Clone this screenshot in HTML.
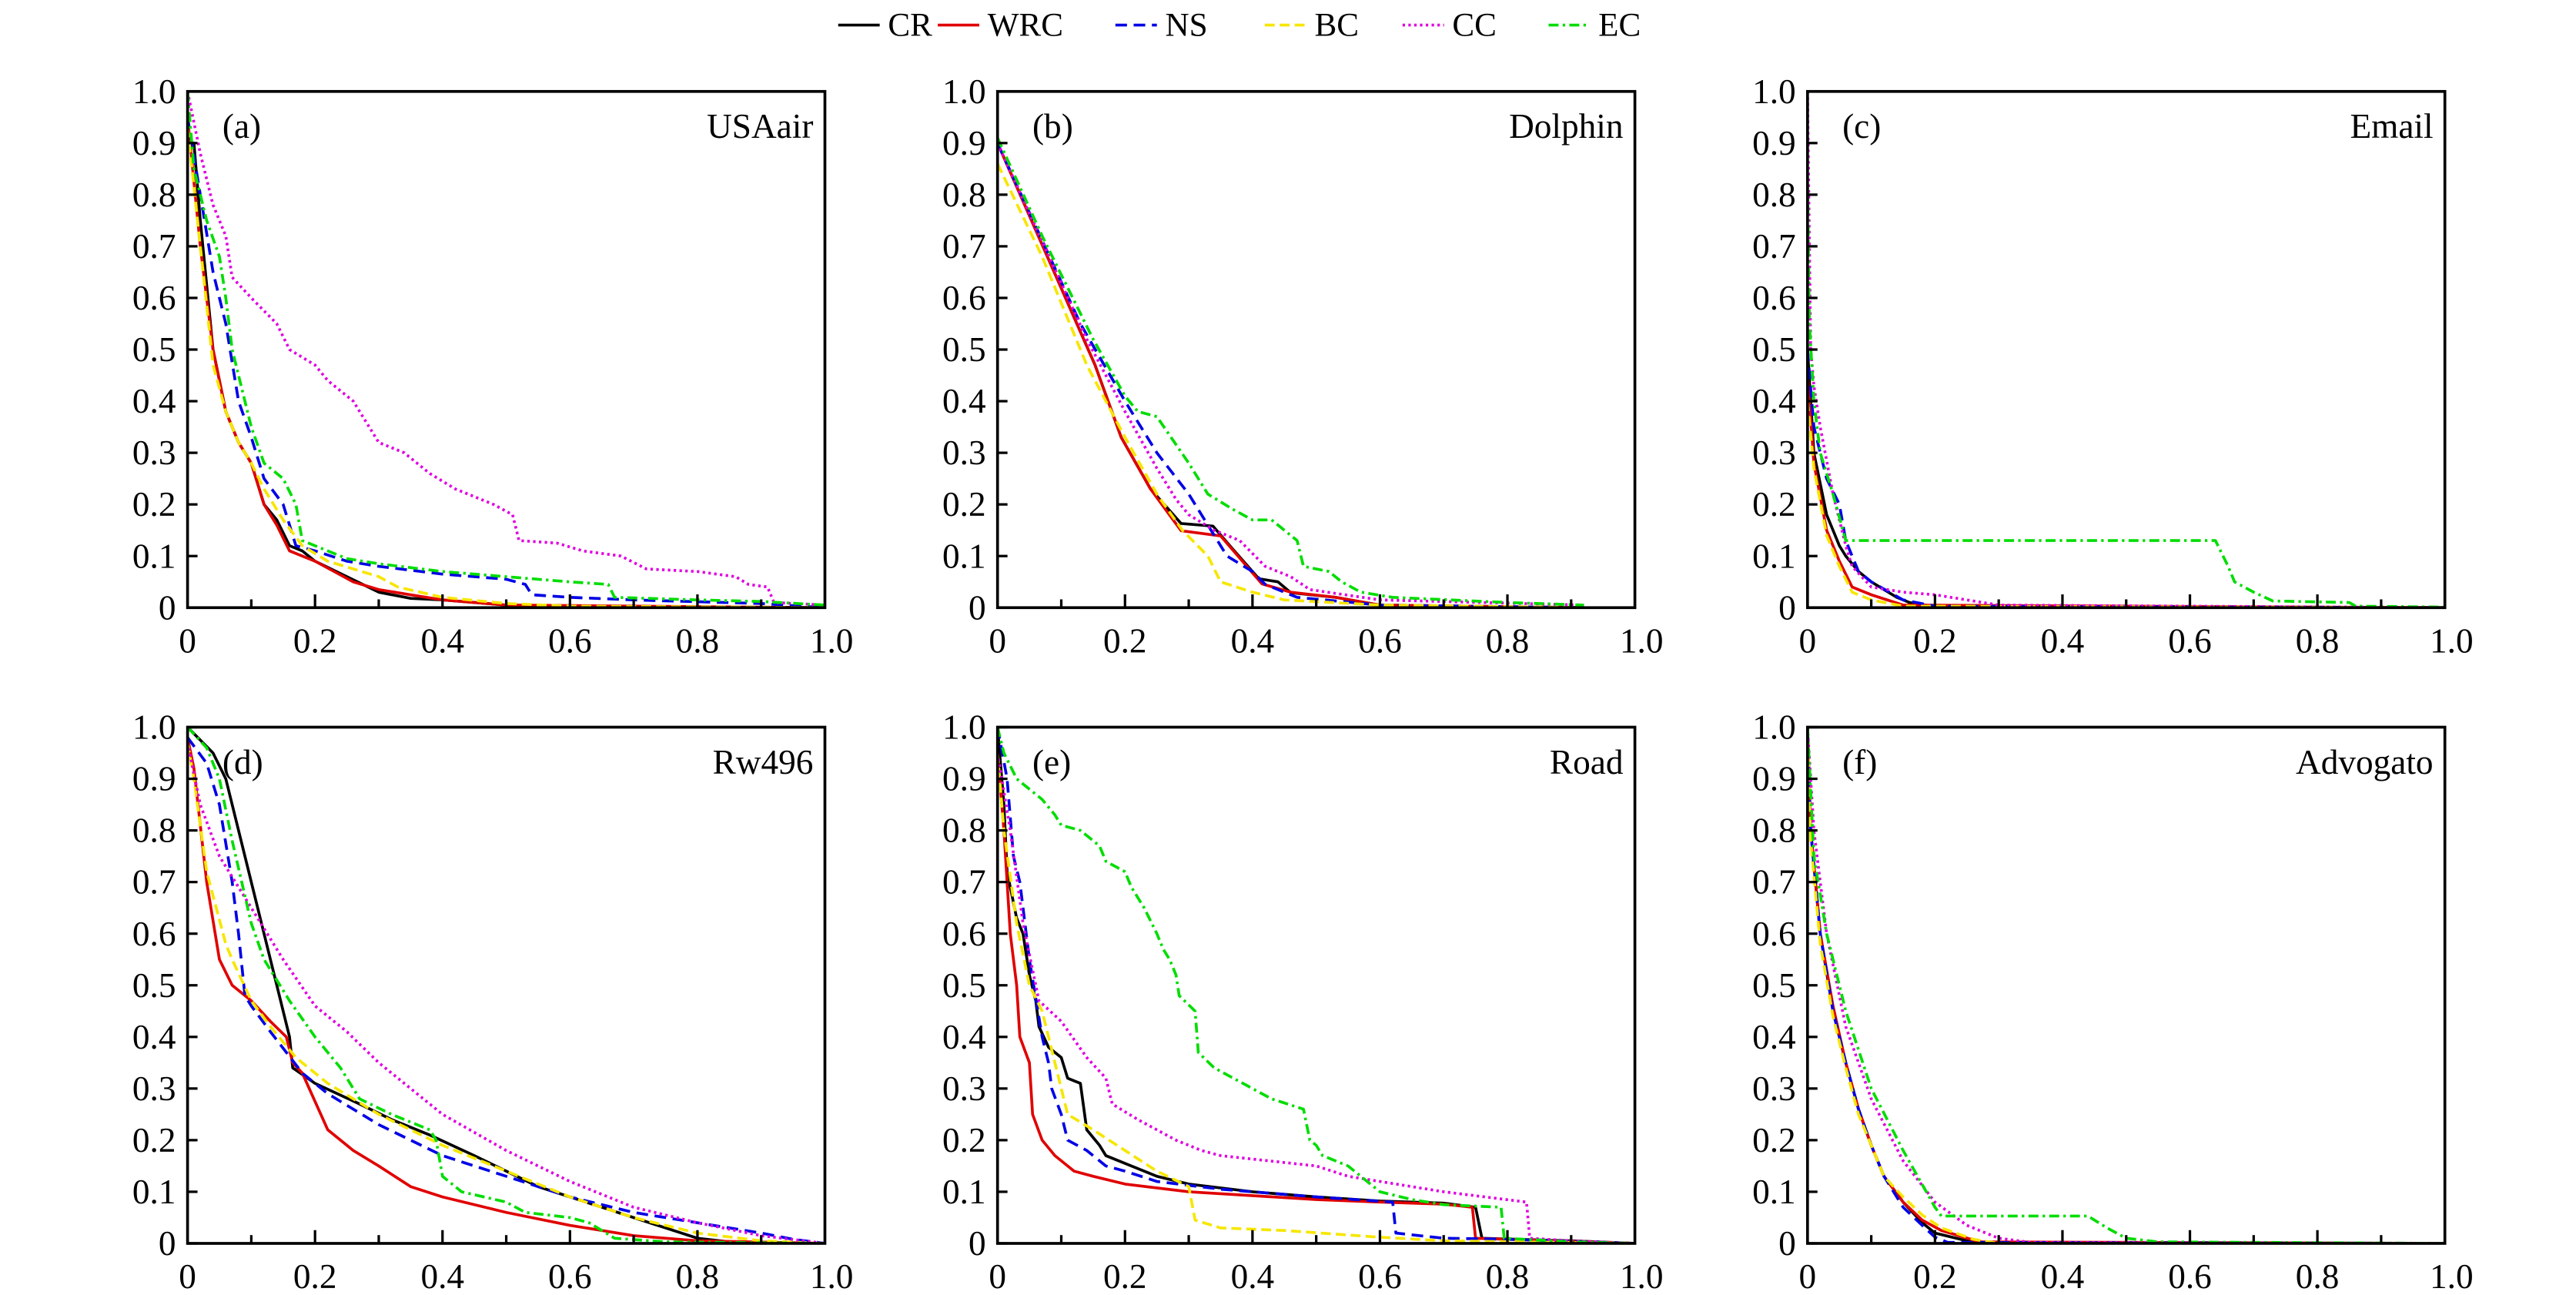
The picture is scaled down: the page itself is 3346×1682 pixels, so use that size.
<!DOCTYPE html>
<html><head><meta charset="utf-8"><style>
html,body{margin:0;padding:0;background:#fff;}
svg{display:block;font-family:"Liberation Serif",serif;}
</style></head><body>
<svg id="chart" width="3346" height="1682" viewBox="0 0 1552 780" xmlns="http://www.w3.org/2000/svg">
<g id="legend"></g>
<g id="panels"></g>
</svg>
<script>
// ---- data ----
const seriesNames = ["CR","WRC","NS","BC","CC","EC"];
const panelTags = ["(a)","(b)","(c)","(d)","(e)","(f)"];
const panelTitles = ["USAair","Dolphin","Email","Rw496","Road","Advogato"];
const yTickLabels = ["0","0.1","0.2","0.3","0.4","0.5","0.6","0.7","0.8","0.9","1.0"];
const xTickLabels = ["0","0.2","0.4","0.6","0.8","1.0"];

const a_CR=[[0,0.9],[0.01,0.9],[0.02,0.75],[0.04,0.5],[0.06,0.38],[0.08,0.32],[0.1,0.28],[0.12,0.2],[0.14,0.17],[0.16,0.12],[0.18,0.11],[0.2,0.09],[0.25,0.06],[0.3,0.03],[0.35,0.018],[0.4,0.015],[0.5,0.005],[0.6,0.002],[1,0]];
const a_WRC=[[0,0.95],[0.02,0.7],[0.04,0.5],[0.06,0.38],[0.08,0.32],[0.1,0.28],[0.12,0.2],[0.14,0.16],[0.16,0.11],[0.2,0.09],[0.23,0.07],[0.26,0.05],[0.3,0.035],[0.35,0.025],[0.4,0.015],[0.5,0.005],[1,0]];
const a_NS=[[0,0.95],[0.02,0.8],[0.04,0.65],[0.06,0.55],[0.08,0.4],[0.1,0.33],[0.12,0.25],[0.15,0.2],[0.17,0.12],[0.2,0.11],[0.25,0.09],[0.3,0.08],[0.4,0.065],[0.5,0.055],[0.53,0.045],[0.54,0.025],[0.6,0.02],[0.7,0.015],[0.9,0.008],[1,0]];
const a_BC=[[0,0.93],[0.02,0.7],[0.04,0.47],[0.06,0.38],[0.08,0.32],[0.1,0.28],[0.12,0.23],[0.15,0.17],[0.18,0.12],[0.22,0.09],[0.3,0.06],[0.33,0.04],[0.4,0.02],[0.5,0.008],[0.6,0.003],[1,0]];
const a_CC=[[0,1],[0.02,0.88],[0.04,0.78],[0.06,0.72],[0.07,0.64],[0.1,0.6],[0.14,0.55],[0.16,0.5],[0.2,0.47],[0.22,0.44],[0.26,0.4],[0.28,0.36],[0.3,0.32],[0.34,0.3],[0.38,0.26],[0.42,0.23],[0.48,0.2],[0.51,0.18],[0.52,0.13],[0.58,0.125],[0.62,0.11],[0.68,0.1],[0.72,0.075],[0.8,0.07],[0.86,0.06],[0.88,0.045],[0.91,0.04],[0.92,0.01],[1,0.005]];
const a_EC=[[0,1],[0.01,0.85],[0.03,0.75],[0.05,0.68],[0.06,0.6],[0.07,0.5],[0.08,0.45],[0.1,0.35],[0.12,0.28],[0.15,0.25],[0.17,0.2],[0.18,0.13],[0.2,0.12],[0.25,0.095],[0.3,0.085],[0.4,0.07],[0.5,0.06],[0.6,0.05],[0.66,0.045],[0.67,0.02],[0.8,0.015],[0.9,0.012],[1,0.005]];

const b_CR=[[0,0.9],[0.133,0.526],[0.153,0.47],[0.194,0.33],[0.24,0.23],[0.288,0.163],[0.338,0.158],[0.368,0.115],[0.41,0.056],[0.44,0.05],[0.46,0.029],[0.53,0.02],[0.6,0.005],[0.92,0]];
const b_WRC=[[0,0.9],[0.133,0.526],[0.153,0.47],[0.194,0.33],[0.24,0.23],[0.288,0.149],[0.35,0.139],[0.415,0.046],[0.46,0.03],[0.53,0.02],[0.6,0.005],[0.92,0]];
const b_NS=[[0,0.9],[0.13,0.55],[0.2,0.4],[0.25,0.3],[0.3,0.22],[0.34,0.14],[0.36,0.1],[0.4,0.07],[0.42,0.045],[0.47,0.02],[0.6,0.005],[0.92,0]];
const b_BC=[[0,0.86],[0.07,0.68],[0.14,0.47],[0.2,0.33],[0.25,0.22],[0.29,0.15],[0.33,0.1],[0.35,0.05],[0.4,0.03],[0.45,0.015],[0.6,0.005],[0.92,0]];
const b_CC=[[0,0.9],[0.14,0.52],[0.2,0.38],[0.25,0.27],[0.28,0.21],[0.3,0.18],[0.34,0.15],[0.38,0.13],[0.42,0.08],[0.46,0.06],[0.49,0.035],[0.6,0.015],[0.92,0.005]];
const b_EC=[[0,0.91],[0.07,0.72],[0.15,0.52],[0.2,0.41],[0.22,0.38],[0.25,0.37],[0.3,0.28],[0.33,0.22],[0.37,0.19],[0.4,0.17],[0.43,0.17],[0.47,0.13],[0.48,0.08],[0.52,0.07],[0.54,0.05],[0.57,0.03],[0.62,0.02],[0.8,0.01],[0.92,0.005]];

const c_CR=[[0,0.5],[0.01,0.3],[0.03,0.18],[0.05,0.12],[0.06,0.1],[0.08,0.07],[0.1,0.05],[0.14,0.02],[0.16,0.01],[0.2,0.002],[1,0]];
const c_WRC=[[0,0.45],[0.01,0.28],[0.03,0.15],[0.05,0.09],[0.07,0.04],[0.1,0.025],[0.15,0.005],[1,0]];
const c_NS=[[0,0.5],[0.01,0.35],[0.03,0.25],[0.05,0.2],[0.06,0.13],[0.07,0.1],[0.08,0.07],[0.1,0.05],[0.15,0.015],[0.2,0.003],[1,0]];
const c_BC=[[0,0.4],[0.01,0.27],[0.03,0.14],[0.05,0.08],[0.07,0.03],[0.1,0.015],[0.15,0.003],[1,0]];
const c_CC=[[0,1],[0.005,0.5],[0.01,0.43],[0.02,0.35],[0.04,0.22],[0.06,0.12],[0.07,0.08],[0.1,0.04],[0.15,0.03],[0.2,0.025],[0.3,0.005],[1,0]];
const c_EC=[[0,0.82],[0.003,0.55],[0.01,0.4],[0.02,0.3],[0.04,0.22],[0.06,0.13],[0.64,0.13],[0.66,0.08],[0.67,0.05],[0.7,0.03],[0.73,0.013],[0.85,0.01],[0.86,0.003],[1,0.001]];

const d_CR=[[0,1],[0.04,0.95],[0.06,0.9],[0.08,0.8],[0.1,0.7],[0.12,0.6],[0.14,0.5],[0.16,0.4],[0.165,0.34],[0.2,0.31],[0.27,0.27],[0.32,0.24],[0.38,0.21],[0.45,0.17],[0.5,0.14],[0.55,0.11],[0.6,0.09],[0.65,0.07],[0.7,0.05],[0.75,0.03],[0.8,0.01],[0.85,0.003],[1,0]];
const d_WRC=[[0,0.98],[0.01,0.92],[0.03,0.7],[0.05,0.55],[0.07,0.5],[0.1,0.47],[0.13,0.43],[0.155,0.4],[0.165,0.35],[0.18,0.33],[0.22,0.22],[0.26,0.18],[0.3,0.15],[0.35,0.11],[0.4,0.09],[0.5,0.06],[0.6,0.035],[0.7,0.015],[0.8,0.005],[1,0]];
const d_NS=[[0,0.98],[0.03,0.93],[0.05,0.85],[0.07,0.7],[0.08,0.6],[0.09,0.48],[0.1,0.46],[0.13,0.41],[0.18,0.33],[0.22,0.29],[0.3,0.23],[0.4,0.17],[0.5,0.13],[0.6,0.09],[0.7,0.06],[0.8,0.04],[0.9,0.02],[0.95,0.008],[1,0]];
const d_BC=[[0,0.97],[0.01,0.9],[0.03,0.72],[0.06,0.58],[0.07,0.55],[0.1,0.47],[0.13,0.42],[0.17,0.36],[0.22,0.31],[0.3,0.25],[0.4,0.19],[0.5,0.14],[0.6,0.09],[0.7,0.05],[0.8,0.02],[0.9,0.005],[1,0]];
const d_CC=[[0,0.97],[0.02,0.85],[0.05,0.75],[0.1,0.65],[0.15,0.55],[0.2,0.46],[0.25,0.41],[0.3,0.35],[0.35,0.3],[0.4,0.25],[0.5,0.18],[0.6,0.12],[0.7,0.07],[0.8,0.04],[0.9,0.015],[1,0]];
const d_EC=[[0,1],[0.03,0.96],[0.05,0.9],[0.07,0.78],[0.1,0.62],[0.12,0.55],[0.16,0.47],[0.2,0.4],[0.24,0.34],[0.27,0.28],[0.32,0.25],[0.38,0.22],[0.39,0.2],[0.4,0.13],[0.43,0.1],[0.5,0.08],[0.53,0.06],[0.6,0.05],[0.63,0.04],[0.67,0.01],[0.75,0.003],[1,0]];

const e_CR=[[0,1],[0.01,0.85],[0.015,0.72],[0.03,0.63],[0.04,0.6],[0.05,0.52],[0.06,0.47],[0.065,0.42],[0.08,0.38],[0.1,0.36],[0.11,0.32],[0.13,0.31],[0.14,0.22],[0.16,0.19],[0.17,0.17],[0.2,0.155],[0.25,0.13],[0.3,0.115],[0.4,0.1],[0.5,0.09],[0.6,0.082],[0.7,0.078],[0.75,0.07],[0.76,0.01],[0.9,0.005],[1,0]];
const e_WRC=[[0,0.95],[0.01,0.8],[0.02,0.6],[0.03,0.5],[0.035,0.4],[0.05,0.35],[0.055,0.25],[0.07,0.2],[0.09,0.17],[0.12,0.14],[0.15,0.13],[0.2,0.115],[0.3,0.1],[0.5,0.085],[0.6,0.08],[0.7,0.076],[0.745,0.07],[0.75,0.01],[0.85,0.006],[1,0]];
const e_NS=[[0,1],[0.015,0.9],[0.025,0.75],[0.035,0.7],[0.05,0.55],[0.07,0.4],[0.08,0.35],[0.085,0.3],[0.1,0.25],[0.11,0.2],[0.14,0.18],[0.17,0.15],[0.2,0.14],[0.25,0.12],[0.35,0.105],[0.5,0.09],[0.62,0.08],[0.625,0.02],[0.7,0.01],[0.8,0.008],[1,0]];
const e_BC=[[0,0.95],[0.01,0.8],[0.03,0.62],[0.05,0.5],[0.07,0.45],[0.09,0.35],[0.1,0.3],[0.11,0.25],[0.15,0.22],[0.2,0.18],[0.25,0.14],[0.3,0.11],[0.31,0.045],[0.35,0.03],[0.45,0.025],[0.6,0.012],[0.7,0.005],[1,0]];
const e_CC=[[0,0.95],[0.02,0.8],[0.04,0.62],[0.065,0.47],[0.1,0.43],[0.14,0.36],[0.17,0.32],[0.18,0.27],[0.22,0.24],[0.28,0.2],[0.32,0.18],[0.35,0.17],[0.5,0.15],[0.55,0.13],[0.7,0.1],[0.83,0.08],[0.835,0.01],[0.9,0.005],[1,0]];
const e_EC=[[0,1],[0.01,0.95],[0.03,0.9],[0.07,0.86],[0.09,0.83],[0.1,0.81],[0.13,0.8],[0.16,0.77],[0.17,0.74],[0.2,0.72],[0.21,0.69],[0.23,0.65],[0.25,0.6],[0.26,0.57],[0.27,0.55],[0.28,0.52],[0.285,0.48],[0.31,0.45],[0.315,0.37],[0.34,0.34],[0.37,0.32],[0.4,0.3],[0.43,0.28],[0.48,0.26],[0.49,0.2],[0.5,0.19],[0.51,0.17],[0.55,0.15],[0.58,0.12],[0.6,0.1],[0.65,0.085],[0.7,0.075],[0.79,0.07],[0.795,0.01],[0.9,0.003],[1,0]];

const f_CR=[[0,1],[0.005,0.8],[0.02,0.6],[0.04,0.45],[0.06,0.35],[0.08,0.26],[0.1,0.19],[0.12,0.13],[0.15,0.08],[0.18,0.04],[0.2,0.02],[0.25,0.005],[0.3,0],[1,0]];
const f_WRC=[[0,1],[0.005,0.8],[0.02,0.6],[0.04,0.46],[0.06,0.35],[0.08,0.26],[0.1,0.19],[0.12,0.13],[0.15,0.08],[0.18,0.045],[0.21,0.025],[0.27,0.003],[1,0]];
const f_NS=[[0,1],[0.005,0.8],[0.02,0.6],[0.04,0.45],[0.06,0.35],[0.08,0.26],[0.1,0.19],[0.12,0.13],[0.15,0.07],[0.18,0.035],[0.2,0.012],[0.22,0.002],[1,0]];
const f_BC=[[0,1],[0.005,0.78],[0.02,0.58],[0.04,0.44],[0.06,0.34],[0.08,0.25],[0.1,0.19],[0.12,0.13],[0.15,0.09],[0.18,0.055],[0.21,0.03],[0.26,0.008],[0.3,0],[1,0]];
const f_CC=[[0,1],[0.01,0.8],[0.03,0.6],[0.06,0.42],[0.1,0.28],[0.15,0.16],[0.2,0.08],[0.25,0.035],[0.3,0.01],[0.35,0.002],[1,0]];
const f_EC=[[0,1],[0.01,0.75],[0.03,0.6],[0.06,0.45],[0.1,0.3],[0.15,0.18],[0.2,0.07],[0.21,0.053],[0.44,0.053],[0.47,0.03],[0.5,0.01],[0.55,0.003],[1,0]];

const panelData = [
  [a_CR,a_WRC,a_NS,a_BC,a_CC,a_EC],
  [b_CR,b_WRC,b_NS,b_BC,b_CC,b_EC],
  [c_CR,c_WRC,c_NS,c_BC,c_CC,c_EC],
  [d_CR,d_WRC,d_NS,d_BC,d_CC,d_EC],
  [e_CR,e_WRC,e_NS,e_BC,e_CC,e_EC],
  [f_CR,f_WRC,f_NS,f_BC,f_CC,f_EC]
];

// ---- styles / layout ----
const styles = [
  {c:"#000000",d:""},
  {c:"#e00000",d:""},
  {c:"#0000e6",d:"7,4"},
  {c:"#f7e600",d:"6,3"},
  {c:"#e000e0",d:"1.5,2"},
  {c:"#00dd00",d:"6,2.5,1.5,2.5"}
];
const colLeft=[113,601,1089], rowTop=[55,438], PW=384, PH=311;
const NS="http://www.w3.org/2000/svg";
function mk(tag,attrs,parent){const e=document.createElementNS(NS,tag);for(const k in attrs)e.setAttribute(k,attrs[k]);parent.appendChild(e);return e;}

// legend
const legend=document.getElementById('legend');
const legX=[505,565,672,762,845,933];
seriesNames.forEach((n,i)=>{
  const g=mk('g',{},legend);
  
  
  mk('line',{x1:legX[i],y1:15,x2:legX[i]+25,y2:15,stroke:styles[i].c,'stroke-width':1.7,'stroke-dasharray':styles[i].d},g);
  const t=mk('text',{x:legX[i]+30,y:21.5,'font-size':20,fill:'#000'},g);
  t.textContent=n;
});

// panels
const panels=document.getElementById('panels');
for(let p=0;p<6;p++){
  const L=colLeft[p%3], T=rowTop[Math.floor(p/3)];
  const sx=v=>L+v*PW, sy=v=>T+PH-v*PH;
  const g=mk('g',{},panels);
  
  
  const clip=mk('clipPath',{id:'clip'+p},g);
  mk('rect',{x:L,y:T,width:PW,height:PH},clip);
  const lines=mk('g',{'clip-path':'url(#clip'+p+')'},g);
  panelData[p].forEach((s,i)=>{
    const pts=s.map(q=>sx(q[0]).toFixed(2)+','+sy(q[1]).toFixed(2)).join(' ');
    const pl=mk('polyline',{points:pts,fill:'none',stroke:styles[i].c,'stroke-width':1.7,'stroke-dasharray':styles[i].d,'stroke-linejoin':'round'},lines);
    
    
  });
  const fr=mk('rect',{x:L,y:T,width:PW,height:PH,fill:'none',stroke:'#000','stroke-width':1.7},g);
  
  
  yTickLabels.forEach((lab,k)=>{
    const y=sy(k/10);
    mk('line',{x1:L,y1:y,x2:L+6,y2:y,stroke:'#000','stroke-width':1.5},g);
    const t=mk('text',{x:L-7,y:y+7,'font-size':21,'text-anchor':'end'},g);
    
    
    t.textContent=lab;
  });
  for(let k=1;k<10;k++){
    const x=sx(k/10);
    mk('line',{x1:x,y1:T+PH,x2:x,y2:T+PH-(k%2===0?8:5),stroke:'#000','stroke-width':1.5},g);
  }
  xTickLabels.forEach((lab,k)=>{
    const t=mk('text',{x:sx(k*0.2)+(k===5?4:0),y:T+PH+27,'font-size':21,'text-anchor':'middle'},g);
    
    
    t.textContent=lab;
  });
  const tag=mk('text',{x:L+21,y:T+28,'font-size':21},g);
  
  
  tag.textContent=panelTags[p];
  const ti=mk('text',{x:L+PW-7,y:T+28,'font-size':21,'text-anchor':'end'},g);
  
  
  ti.textContent=panelTitles[p];
}
</script>
</body></html>
